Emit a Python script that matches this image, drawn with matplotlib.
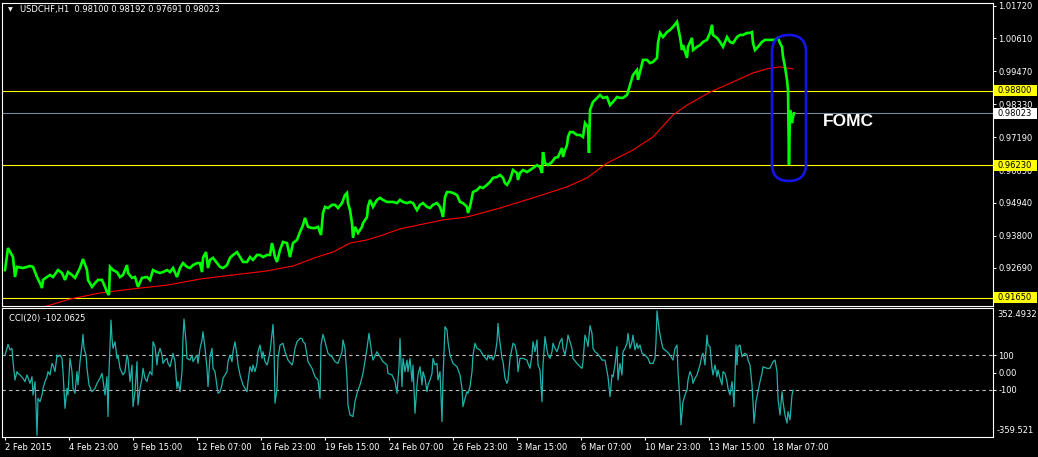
import matplotlib
matplotlib.use("Agg")
import matplotlib.pyplot as plt
from matplotlib.patches import Rectangle, FancyBboxPatch
from matplotlib.transforms import blended_transform_factory, IdentityTransform

# ---------------- data ----------------
price_bar = [5, 8, 13, 15, 17, 23, 30, 33, 37, 40, 42, 43, 47, 50, 53, 58, 62, 65, 68, 72, 75, 80, 83, 87, 88,
             92, 95, 98, 102, 105, 107, 109, 110, 113, 117, 120, 123, 127, 128, 132, 135, 138, 142, 147, 150,
             153, 157, 160, 163, 167, 170, 173, 177, 180, 183, 187, 190, 193, 197, 200, 202, 203, 206, 208,
             210, 213, 217, 220, 223, 227, 230, 233, 237, 240, 243, 247, 250, 253, 257, 260, 263, 267, 270,
             272, 275, 277, 280, 283, 287, 290, 293, 297, 300, 303, 305, 308, 312, 315, 318, 321, 323, 325,
             328, 332, 335, 338, 342, 345, 347, 348, 350, 352, 353, 355, 358, 362, 363, 367, 368, 370, 373,
             377, 380, 383, 387, 390, 393, 397, 400, 403, 407, 410, 413, 417, 420, 423, 427, 430, 433, 437,
             440, 442, 443, 445, 447, 450, 453, 457, 460, 463, 467, 468, 470, 472, 473, 477, 480, 483, 487,
             490, 493, 497, 500, 503, 505, 507, 510, 513, 517, 518, 520, 523, 527, 530, 533, 537, 540, 542,
             543, 545, 548, 552, 555, 558, 562, 563, 565, 567, 568, 570, 573, 577, 580, 583, 585, 588, 589,
             590, 593, 597, 600, 603, 607, 610, 613, 617, 620, 623, 627, 630, 633, 637, 638, 640, 643, 647,
             650, 653, 657, 658, 660, 663, 667, 670, 673, 677, 678, 680, 682, 683, 687, 688, 692, 693, 697,
             700, 703, 707, 710, 712, 713, 717, 720, 723, 727, 730, 733, 737, 740, 743, 747, 750, 752, 753,
             755, 758, 762, 765, 768, 772, 775, 778, 780, 782, 783, 785, 787, 788, 789, 790, 791, 792, 793, 794]
price_close = [0.9261, 0.9337, 0.9306, 0.9237, 0.9272, 0.9268, 0.9275, 0.9272, 0.9237, 0.9216, 0.9199, 0.9227,
               0.9237, 0.9244, 0.9237, 0.9261, 0.9251, 0.9227, 0.9254, 0.9244, 0.9234, 0.9268, 0.9299, 0.9261,
               0.9227, 0.9203, 0.9216, 0.9227, 0.9227, 0.9203, 0.9185, 0.9175, 0.9272, 0.9261, 0.9254, 0.9237,
               0.9244, 0.9278, 0.9251, 0.9234, 0.9237, 0.9203, 0.9234, 0.9237, 0.9227, 0.9261, 0.9254, 0.9251,
               0.9254, 0.9261, 0.9254, 0.9268, 0.9237, 0.9268, 0.9285, 0.9272, 0.9268, 0.9278, 0.9285, 0.9285,
               0.9254, 0.9303, 0.9323, 0.9268, 0.9296, 0.9303, 0.9285, 0.9272, 0.9268, 0.9278, 0.9303, 0.9313,
               0.9323, 0.9306, 0.9289, 0.9289, 0.9306, 0.9296, 0.9313, 0.9313, 0.9306, 0.9313, 0.9313, 0.9354,
               0.9306, 0.9289, 0.9330, 0.9358, 0.9354, 0.9306, 0.9354, 0.9365, 0.9392, 0.9416, 0.9441, 0.9410,
               0.9406, 0.9406, 0.9410, 0.9382, 0.9458, 0.9479, 0.9475, 0.9486, 0.9486, 0.9475, 0.9492, 0.9520,
               0.9527, 0.9492, 0.9468, 0.9423, 0.9372, 0.9410, 0.9389, 0.9410, 0.9423, 0.9444, 0.9479, 0.9503,
               0.9479, 0.9503, 0.9510, 0.9503, 0.9496, 0.9496, 0.9496, 0.9492, 0.9503, 0.9496, 0.9492, 0.9496,
               0.9492, 0.9468, 0.9486, 0.9492, 0.9479, 0.9475, 0.9486, 0.9492, 0.9479, 0.9458, 0.9444, 0.9513,
               0.9530, 0.9530, 0.9527, 0.9520, 0.9496, 0.9492, 0.9479, 0.9458, 0.9479, 0.9513, 0.9530, 0.9537,
               0.9548, 0.9544, 0.9555, 0.9565, 0.9579, 0.9582, 0.9589, 0.9579, 0.9561, 0.9555, 0.9572, 0.9606,
               0.9596, 0.9572, 0.9596, 0.9606, 0.9599, 0.9606, 0.9613, 0.9623, 0.9616, 0.9596, 0.9668, 0.9630,
               0.9623, 0.9634, 0.9648, 0.9651, 0.9682, 0.9651, 0.9675, 0.9692, 0.9720, 0.9737, 0.9737, 0.9727,
               0.9727, 0.9720, 0.9768, 0.9754, 0.9665, 0.9813, 0.9841, 0.9855, 0.9865, 0.9855, 0.9858, 0.9830,
               0.9841, 0.9858, 0.9855, 0.9855, 0.9865, 0.9900, 0.9934, 0.9951, 0.9917, 0.9944, 0.9986, 0.9986,
               0.9975, 0.9979, 0.9993, 1.0044, 1.0079, 1.0065, 1.0082, 1.0089, 1.0100, 1.0117, 1.0100, 1.0065,
               1.0020, 1.0037, 0.9993, 1.0031, 1.0062, 1.0020, 1.0031, 1.0037, 1.0048, 1.0055, 1.0079, 1.0107,
               1.0072, 1.0062, 1.0048, 1.0031, 1.0065, 1.0048, 1.0044, 1.0065, 1.0072, 1.0072, 1.0079, 1.0079,
               1.0082, 1.0044, 1.0020, 1.0031, 1.0048, 1.0055, 1.0055, 1.0055, 1.0055, 1.0062, 1.0044, 1.0031,
               0.9997, 0.9962, 0.9917, 0.9882, 0.9625, 0.9813, 0.9790, 0.9768, 0.9790, 0.9802]

ma_bar = [43, 70, 100, 133, 167, 200, 233, 267, 293, 317, 333, 350, 367, 383, 400, 443, 467, 500, 533, 567,
          587, 607, 633, 653, 673, 687, 710, 733, 753, 767, 780, 793]
ma_value = [0.9133, 0.9161, 0.9182, 0.9196, 0.9209, 0.9230, 0.9244, 0.9258, 0.9275, 0.9306, 0.9323, 0.9354,
            0.9365, 0.9382, 0.9403, 0.9434, 0.9444, 0.9475, 0.9510, 0.9548, 0.9579, 0.9630, 0.9675, 0.9720,
            0.9796, 0.9830, 0.9875, 0.9910, 0.9941, 0.9955, 0.9962, 0.9955]

cci_bar = [5, 7, 8, 10, 12, 13, 15, 17, 18, 20, 23, 25, 27, 30, 32, 33, 35, 36, 37, 38, 40, 42, 43, 45, 47, 48,
           50, 52, 53, 55, 57, 58, 60, 62, 63, 65, 67, 68, 70, 72, 73, 75, 77, 78, 80, 82, 83, 84, 86, 87, 89,
           92, 95, 97, 100, 102, 103, 105, 107, 108, 109, 111, 112, 113, 115, 117, 118, 120, 123, 125, 127,
           128, 130, 132, 133, 135, 137, 138, 140, 142, 143, 145, 147, 148, 150, 152, 153, 155, 157, 158, 160,
           162, 163, 165, 167, 168, 170, 172, 173, 175, 177, 178, 180, 182, 183, 184, 186, 187, 190, 192, 193,
           195, 197, 198, 200, 202, 203, 205, 207, 208, 210, 212, 213, 215, 217, 218, 220, 222, 223, 227, 228,
           230, 232, 233, 235, 237, 238, 240, 243, 247, 248, 250, 252, 253, 255, 257, 258, 260, 262, 263, 265,
           267, 268, 270, 272, 273, 274, 275, 277, 278, 280, 283, 285, 288, 292, 293, 295, 297, 300, 302, 303,
           305, 307, 308, 312, 315, 318, 320, 321, 323, 325, 328, 332, 335, 338, 342, 343, 345, 347, 348, 350,
           353, 355, 357, 360, 363, 367, 369, 372, 373, 377, 380, 383, 387, 388, 392, 395, 397, 399,
           400, 402, 403, 405, 407, 408, 410, 412, 413, 415, 417, 418, 420, 422, 423, 425, 427, 428, 430, 432,
           433, 435, 437, 438, 440, 442, 443, 445, 447, 448, 450, 453, 457, 460, 462, 463, 465, 467, 468, 470,
           472, 473, 475, 477, 480, 483, 487, 488, 490, 492, 493, 495, 497, 498, 499, 502, 503, 505, 507, 508,
           510, 512, 513, 515, 517, 518, 520, 523, 527, 528, 530, 532, 533, 535, 537, 538, 540, 542, 543, 545,
           547, 548, 550, 552, 553, 555, 557, 560, 562, 563, 565, 567, 568, 570, 572, 573, 577, 580, 582, 583,
           585, 587, 588, 590, 592, 593, 595, 597, 600, 602, 605, 608, 610, 612, 613, 615, 617, 618, 620, 622,
           623, 625, 627, 628, 630, 632, 633, 635, 637, 638, 640, 642, 645, 648, 650, 653, 655, 656, 657, 659,
           661, 663, 665, 667, 670, 672, 673, 675, 677, 678, 680, 681, 683, 685, 687, 688, 690, 692, 693, 695,
           697, 700, 702, 703, 705, 707, 708, 710, 712, 713, 715, 717, 718, 720, 722, 723, 725, 727, 728, 730,
           732, 733, 734, 736, 737, 738, 740, 742, 743, 745, 747, 748, 750, 752, 753, 754, 756, 758, 760, 762,
           763, 767, 770, 773, 775, 777, 778, 780, 782, 783, 785, 787, 788, 790, 792, 793]
cci_value = [100, 138, 161, 129, 138, 62, -43, 5, -5, -14, -33, -52, -14, -62, -24, -129, -52, -186, -359.521,
             -148, -167, -129, -91, -52, -24, 5, -14, 52, 43, 5, 100, 90, 100, 81, 5, -205, -91, -129, 81, 5,
             -91, -119, 5, -71, 62, 157, 218, 138, 100, 24, -71, -110, -91, -62, -33, -5, -43, -129, -24, -252,
             5, 300, 195, 138, 176, 81, 100, 24, -14, 5, 100, 81, -52, 43, -195, -110, 62, -186, -91, -33, 24,
             -33, -52, -24, 5, -14, 176, 148, 43, 100, 138, 100, 52, 71, 81, 52, 33, 81, 110, 62, -91, -52,
             -110, 5, 195, 306, 176, 81, 71, 100, 62, 81, 100, 52, 138, 186, 233, 138, 24, -81, 90, 138, 24, 5,
             -81, -119, -110, -71, -33, 5, 62, 100, 62, 119, 176, 100, 43, -14, -71, -110, -52, 33, 5, 43, 5,
             52, 119, 157, 81, 119, 62, 43, 62, 119, 224, 275, 157, -176, -91, 81, 157, 167, 119, 71, 43, 62,
             138, 176, 195, 195, 176, 167, 100, 62, 24, -24, -43, -148, 157, 218, 176, 110, 90, 62, 52, 119,
             186, 138, -33, -186, -243, -252, -167, -119, -71, -5, 138, 224, 100, 71, 119, 90, 62, 43, -5, -14,
             -52, -119, 33,
             195, -81, 81, 5, 71, 5, 81, -52, 43, -233, -71, -14, 33, -71, 5, -33, -110, -71, -43, -5, 81, 43,
             52, -43, 5, -281, -33, 262, 243, 176, 100, 52, 33, -14, -91, -195, -148, -110, -119, -81, 5, 100,
             167, 138, 129, 100, 71, 100, 81, 90, 71, 100, 176, 281, 214, 81, 62, -33, -62, -43, 81, 138, 167,
             157, 100, 5, 81, 81, 71, 52, 24, 100, 176, 119, 186, 43, 14, -167, 43, 205, 129, 100, 81, 119, 167,
             138, 119, 176, 195, 138, 100, 167, 214, 176, 138, 81, 52, 33, 24, 62, 214, 176, 148, 268, 224, 138,
             119, 110, 90, 71, 71, -24, -138, -14, -24, 43, 148, -43, 52, -14, 119, 138, 167, 224, 138, 176, 214,
             129, 167, 138, 157, 110, 100, 81, 52, 52, 81, 176, 352.4932, 252, 186, 138, 129, 119, 100, 81, 71,
             138, 157, 5, -167, -300, -167, -129, -100, -43, 5, -24, -62, -33, -14, 43, 100, 110, 43, 214, 157,
             148, 24, -14, 43, -24, 14, -33, -71, 5, -5, -52, -91, -129, -52, -110, -195, 157, 43, 148, 157, 90,
             100, 110, 100, 71, 43, -71, -167, -290, -167, -110, -52, -5, 33, 24, 24, 62, 71, 5, -148, -243,
             -110, -167, -243, -290, -224, -271, -129, -102.0625]

xtick_bar = [5, 69, 133, 197, 261, 325, 389, 453, 517, 581, 645, 709, 773]
xtick_labels = ["2 Feb 2015", "4 Feb 23:00", "9 Feb 15:00", "12 Feb 07:00", "16 Feb 23:00", "19 Feb 15:00",
                "24 Feb 07:00", "26 Feb 23:00", "3 Mar 15:00", "6 Mar 07:00", "10 Mar 23:00", "13 Mar 15:00",
                "18 Mar 07:00"]
price_ticks = [1.01720, 1.00610, 0.99470, 0.98330, 0.97190, 0.96050, 0.94940, 0.93800, 0.92690]
yellow_levels = [0.98800, 0.96230, 0.91650]
bid_price = 0.98023
cci_levels = [100, -100]
cci_ticks = [100, 0, -100]
cci_tick_labels = ["100", "0.00", "-100"]
cci_max, cci_min = 352.4932, -359.521
title_text = "USDCHF,H1  0.98100 0.98192 0.97691 0.98023"
cci_title = "CCI(20) -102.0625"

# ---------------- layout ----------------
W, H = 1038, 457
fig = plt.figure(figsize=(W / 100, H / 100), dpi=100, facecolor="black")


def px_axes(x0, y0, x1, y1):
    return fig.add_axes([x0 / W, 1 - y1 / H, (x1 - x0) / W, (y1 - y0) / H])


ax = px_axes(2, 3, 993, 306)
ax2 = px_axes(2, 308, 993, 437)
FS = 6
WHITE = "white"

for a in (ax, ax2):
    a.set_facecolor("black")
    for s in a.spines.values():
        s.set_color(WHITE)
        s.set_linewidth(0.8)
    a.set_xlim(2, 993)
    a.yaxis.tick_right()
    a.tick_params(axis="y", colors=WHITE, labelcolor=WHITE, labelsize=FS, length=2.2, width=0.7, pad=1.5)

# ---------------- main panel ----------------
ax.set_ylim(0.91370, 1.01823)
ax.set_yticks(price_ticks)
ax.set_yticklabels([f"{v:.5f}" for v in price_ticks])
ax.set_xticks([])

for lv in yellow_levels:
    ax.axhline(lv, color="#FFFF00", lw=0.8, zorder=2)
ax.axhline(bid_price, color="#778899", lw=0.8, zorder=2)

ax.plot(ma_bar, ma_value, color="#FF0000", lw=0.8, zorder=3)
ax.plot(price_bar, price_close, color="#00FF00", lw=1.9, zorder=4, solid_joinstyle="miter")

# right-side highlighted price labels
bt = blended_transform_factory(ax.transAxes, ax.transData)
box_h = 11 * (1.01823 - 0.91370) / 303
box_x0 = 1 + 1 / 991
box_w = 43 / 991
for lv, fc in [(yellow_levels[0], "#FFFF00"), (bid_price, "white"), (yellow_levels[1], "#FFFF00"),
               (yellow_levels[2], "#FFFF00")]:
    ax.add_patch(Rectangle((box_x0, lv - box_h / 2), box_w, box_h, transform=bt, facecolor=fc,
                           edgecolor="none", clip_on=False, zorder=10))
    ax.text(1.005, lv, f"{lv:.5f}", transform=bt, color="black", fontsize=FS, va="center", ha="left",
            zorder=11, clip_on=False)

# title
ax.text(0.006, 0.978, "\u25BC", transform=ax.transAxes, color=WHITE, fontsize=4.5, va="center", ha="left")
ax.text(0.018, 0.978, title_text, transform=ax.transAxes, color=WHITE, fontsize=FS, va="center", ha="left")

# chart shift marker
ax.plot([793], [0.995], marker="v", color="#808080", markersize=5, transform=bt, clip_on=False, zorder=12)

# FOMC annotation (stadium around the drop)
fig.canvas.draw()
x0d, y0d = ax.transData.transform((772, 0.95683))
x1d, y1d = ax.transData.transform((806, 1.00719))
wd = x1d - x0d
stadium = FancyBboxPatch((x0d, y0d), wd, y1d - y0d, boxstyle=f"round,pad=0,rounding_size={wd / 2}",
                         transform=IdentityTransform(), facecolor="none", edgecolor="#1414E6", lw=1.9,
                         zorder=20)
fig.add_artist(stadium)
ax.text(823, 0.9772, "FOMC", color=WHITE, fontsize=12.5, fontweight="bold", family="Liberation Sans",
        va="center", ha="left")

# ---------------- CCI panel ----------------
ax2.set_ylim(-369, 369)
ax2.set_yticks(cci_ticks)
ax2.set_yticklabels(cci_tick_labels)
for lv in cci_levels:
    ax2.axhline(lv, color="#C0C0C0", lw=0.8, ls=(0, (3, 3)))
ax2.plot(cci_bar, cci_value, color="#20B2AA", lw=0.9)
ax2.text(1.004, 0.946, f"{cci_max}", transform=ax2.transAxes, color=WHITE, fontsize=FS, va="center",
         ha="left", clip_on=False)
ax2.text(1.004, 0.054, f"{cci_min}", transform=ax2.transAxes, color=WHITE, fontsize=FS, va="center",
         ha="left", clip_on=False)
ax2.text(0.007, 0.92, cci_title, transform=ax2.transAxes, color=WHITE, fontsize=FS, va="center", ha="left")

ax2.set_xticks(xtick_bar)
ax2.set_xticklabels(xtick_labels, ha="left")
ax2.tick_params(axis="x", colors=WHITE, labelcolor=WHITE, labelsize=FS, length=2.5, width=0.8, pad=2)

fig.savefig("out.png", dpi=100, facecolor="black")
